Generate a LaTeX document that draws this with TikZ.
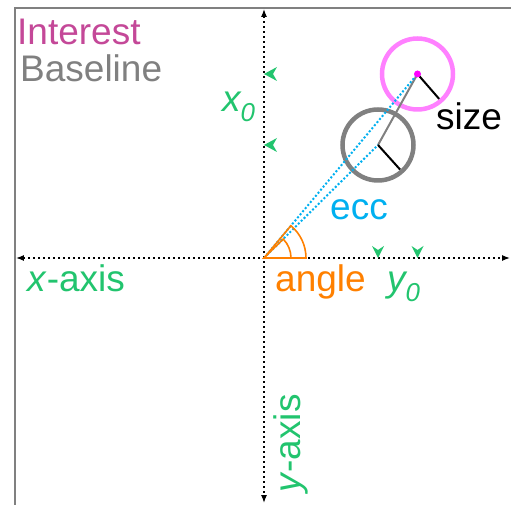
\documentclass[tikz,border=0pt]{standalone}
\usepackage{fontspec}
\setmainfont{Liberation Sans}
\usetikzlibrary{arrows.meta, positioning, calc}
\definecolor{intcolor}{RGB}{255,128,255}
\definecolor{inttext}{RGB}{196,72,152}
\definecolor{basecolor}{RGB}{128,128,128}
\definecolor{eccblue}{RGB}{0,176,240}
\definecolor{axgreen}{RGB}{34,196,110}
\definecolor{angorange}{RGB}{255,128,0}
\definecolor{dotcolor}{RGB}{255,0,255}

\begin{document}
\begin{tikzpicture}[
    x=1pt, y=1pt,
    lbl/.style={font=\fontsize{37}{44}\selectfont, inner sep=0pt, anchor=base west},
    axis/.style={line width=1.2pt, dash pattern=on 1.2pt off 3.8pt, {Latex[length=8pt,width=6pt]}-{Latex[length=8pt,width=6pt]}},
    stim/.style={circle, draw, line width=4.5pt, minimum size=71pt, inner sep=0pt},
    eccline/.style={eccblue, line width=2pt, dash pattern=on 2pt off 2pt},
    sizeline/.style={black, line width=2pt},
    marker/.style={fill=axgreen}
]
\useasboundingbox (-264,-247) rectangle (247,258);
% frame
\draw[basecolor, line width=1.5pt] (-249,-247) -- (-249,250) -- (247,250);

% axes
\coordinate (o) at (0,0);
\coordinate (xl) at (-248,0);
\coordinate (xr) at (246,0);
\coordinate (yt) at (0,249);
\coordinate (yb) at (0,-245);
\draw[axis] (xl) -- (xr);
\draw[axis] (yt) -- (yb);

% stimuli
\node[stim, basecolor] (base) at (114,113) {};
\node[stim, intcolor] (int) at (153.5,184) {};
\draw[basecolor, line width=2pt] (base.center) -- (int.center);
\draw[eccline] (o) -- (base.center);
\draw[eccline] (o) -- (int.center);
\draw[sizeline] (base.center) -- ++(-48:33);
\draw[sizeline] (int.center) -- ++(-49:33);
\fill[dotcolor] (int.center) circle (3.5pt);

% angle wedges
\draw[angorange, line width=1.6pt] (o) -- (27,0) arc (0:44.7:27) -- cycle;
\draw[angorange, line width=1.6pt] (o) -- (42,0) arc (0:50.2:42) -- cycle;

% position markers
\foreach \yy in {113,184}
  \fill[marker] (0,\yy) -- ++(13,7) -- ++(-4,-7) -- ++(4,-7) -- cycle;
\foreach \xx in {114,153.5}
  \fill[marker] (\xx,0) -- ++(-6,12) -- ++(6,-4) -- ++(6,4) -- cycle;

% labels
\node[lbl, inttext] (lint) at (-247,213) {Interest};
\node[lbl, basecolor] (lbase) at (-244,176) {Baseline};
\node[lbl, axgreen] (lx0) at (-42,146) {\itshape x\textsubscript{0}};
\node[lbl, axgreen] (ly0) at (123,-34) {\itshape y\textsubscript{0}};
\node[lbl, axgreen] (lxax) at (-237,-34) {\textit{x}-axis};
\node[lbl, axgreen, rotate=90] (lyax) at (36,-235) {\textit{y}-axis};
\node[lbl, angorange] (lang) at (11,-34) {angle};
\node[lbl, eccblue] (lecc) at (66,38) {ecc};
\node[lbl, black] (lsize) at (172,128) {size};
\end{tikzpicture}
\end{document}
